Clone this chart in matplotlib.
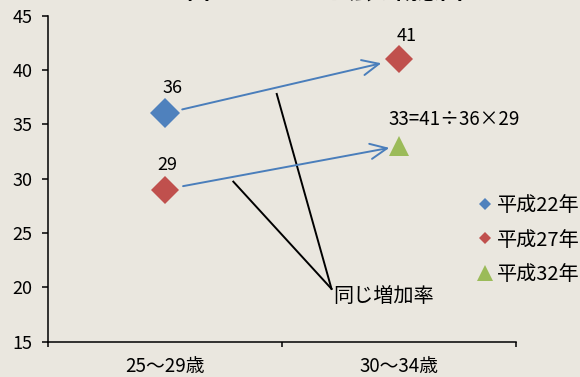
import matplotlib
matplotlib.use("Agg")
import matplotlib.pyplot as plt
from matplotlib.ticker import FixedLocator

plt.rcParams['font.family'] = ['Noto Sans CJK JP', 'DejaVu Sans']

# ---- data ----
categories = ['25～29歳', '30～34歳']
series_names = ['平成22年', '平成27年', '平成32年']
h22 = [36, None]
h27 = [29, 41]
h32 = [None, 33]
yticks = [15, 20, 25, 30, 35, 40, 45]
title = '図 1 コーホート法の概念図'
callout = '同じ増加率'

colors = ['#4F81BD', '#C0504D', '#9BBB59']
bg = '#EAE7DF'

fig = plt.figure(figsize=(5.8, 3.77), dpi=100, facecolor=bg)
ax = fig.add_axes([47.5/580, 1-341.7/377, 468.5/580, 326/377])
ax.set_facecolor(bg)

x = [0, 1]
def xs_ys(vals):
    pts = [(xi, v) for xi, v in zip(x, vals) if v is not None]
    return [p[0] for p in pts], [p[1] for p in pts]

l1, = ax.plot(*xs_ys(h22), linestyle='none', marker='D', ms=15.5, mew=0,
              color=colors[0], label=series_names[0], zorder=3)
l2, = ax.plot(*xs_ys(h27), linestyle='none', marker='D', ms=14.5, mew=0,
              color=colors[1], label=series_names[1], zorder=3)
l3, = ax.plot(*xs_ys(h32), linestyle='none', marker='^', ms=14, mew=0,
              color=colors[2], label=series_names[2], zorder=3)

ax.set_xlim(-0.5, 1.5)
ax.set_ylim(15, 45)
ax.set_yticks(yticks)
ax.set_xticks(x)
ax.set_xticklabels(categories)
ax.xaxis.set_minor_locator(FixedLocator([-0.5, 0.5, 1.5]))
ax.tick_params(axis='x', which='major', length=0, pad=10.5, labelsize=13.5)
ax.tick_params(axis='x', which='minor', length=3.6, width=1.1, direction='out')
ax.tick_params(axis='y', length=4.3, width=1.1, pad=6.5, labelsize=13)
for s in ['top', 'right']:
    ax.spines[s].set_visible(False)
for s in ['left', 'bottom']:
    ax.spines[s].set_linewidth(1.1)
    ax.spines[s].set_color('black')
ax.spines['left'].set_zorder(1)

# data labels
lab_kw = dict(textcoords='offset points', fontsize=13, ha='center', va='center', zorder=4)
ax.annotate(str(h22[0]), xy=(0, h22[0]), xytext=(5.4, 18), **lab_kw)
ax.annotate(str(h27[0]), xy=(0, h27[0]), xytext=(1.8, 18), **lab_kw)
ax.annotate(str(h27[1]), xy=(1, h27[1]), xytext=(5.4, 16.5), **lab_kw)
ax.annotate(f'{h32[1]}={h27[1]}÷{h22[0]}×{h27[0]}', xy=(1, h32[1]),
            xytext=(-7.6, 19), textcoords='offset points', fontsize=13.5,
            ha='left', va='center', zorder=4)

# arrows (same growth rate)
arr_kw = dict(arrowstyle='->,head_length=1.2,head_width=0.55', color='#4A7EBB',
              lw=1.4, mutation_scale=10)
ax.annotate('', xy=(1, h27[1]), xytext=(0, h22[0]),
            arrowprops=dict(shrinkA=13, shrinkB=13, **arr_kw))
ax.annotate('', xy=(1, h32[1]), xytext=(0, h27[0]),
            arrowprops=dict(shrinkA=13.5, shrinkB=7, **arr_kw))

# callout lines
tip = (0.7125, 19.86)
ax.plot([0.4786, tip[0]], [37.80, tip[1]], color='black', lw=1.4, zorder=2)
ax.plot([0.2933, tip[0]], [29.73, tip[1]], color='black', lw=1.4, zorder=2)
ax.text((384-164.6)/234.25, 45-(297-15.7)/10.87, callout, fontsize=14.5,
        ha='center', va='center')

# legend
leg = ax.legend(handles=[l1, l2, l3], loc='center left',
                bbox_to_anchor=(475/580, 1-240/377), bbox_transform=fig.transFigure,
                frameon=False, fontsize=14.5, handlelength=1.0, handletextpad=0.1,
                labelspacing=0.69, borderpad=0, borderaxespad=0)
for h, ms in zip(leg.legend_handles, [6.6, 6.6, 11]):
    h.set_markersize(ms)

fig.text(325/580, 1+0.5/377, title, fontsize=16.5, fontweight='bold',
         ha='center', va='baseline')

fig.savefig('out.png', dpi=100, facecolor=bg)
